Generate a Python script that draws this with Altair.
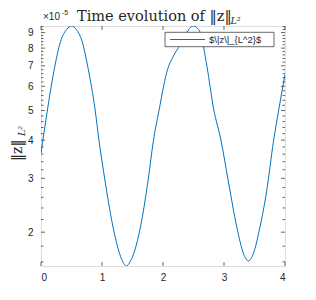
import altair as alt
import pandas as pd

# data (values of ||z||_{L^2} in units of 1e-5)
t_vals = [0, 0.1, 0.21, 0.32, 0.42, 0.5, 0.58, 0.667, 0.776, 0.885, 0.95, 1.05, 1.16, 1.27, 1.34, 1.40,
          1.46, 1.54, 1.65, 1.76, 1.84, 1.95, 2.0, 2.06, 2.17, 2.28, 2.39, 2.45, 2.5, 2.55, 2.61, 2.72,
          2.83, 2.95, 3.07, 3.21, 3.32, 3.40, 3.48, 3.59, 3.70, 3.81, 3.90, 4.0]
z_vals = [3.62, 4.94, 6.7, 8.4, 9.2, 9.45, 9.2, 8.5, 6.81, 5.06, 4.0, 2.94, 2.18, 1.75, 1.6, 1.55,
          1.6, 1.75, 2.18, 3.0, 3.95, 5.19, 5.87, 6.65, 7.53, 8.2, 9.0, 9.35, 9.45, 9.35, 9.0, 6.98,
          5.06, 4.0, 2.94, 2.08, 1.70, 1.61, 1.70, 2.08, 2.73, 3.95, 5.06, 6.56]
x_ticks = [0, 1, 2, 3, 4]
y_major = [2, 3, 4, 5, 6, 7, 8, 9]
y_minor = [1.6, 1.8, 2.2, 2.4, 2.6, 2.8, 3.2, 3.4, 3.6, 3.8, 4.2, 4.4, 4.6, 4.8, 5.2, 5.4, 5.6, 5.8,
           6.2, 6.4, 6.6, 6.8, 7.2, 7.4, 7.6, 7.8, 8.2, 8.4, 8.6, 8.8, 9.2, 9.4]

W, H = 244, 240
AX = "#262626"
LINE = "#0072BD"

df = pd.DataFrame({"t": t_vals, "z": z_vals})
xs = alt.Scale(domain=[0, 4], nice=False, zero=False)
ys = alt.Scale(type="log", domain=[1.55, 9.45], nice=False)
x_axis = alt.Axis(values=x_ticks, ticks=False, domain=False, grid=False, labelPadding=6,
                  labelFontSize=10, labelColor=AX, labelFont="Liberation Sans", title=None)
y_axis = alt.Axis(values=y_major, ticks=False, domain=False, grid=False, format="d", labelPadding=8,
                  labelFontSize=10, labelColor=AX, labelFont="Liberation Sans", title=None)

line = alt.Chart(df).mark_line(color=LINE, strokeWidth=1, interpolate="monotone", clip=True).encode(
    x=alt.X("t:Q", scale=xs, axis=x_axis, title=None),
    y=alt.Y("z:Q", scale=ys, axis=y_axis, title=None),
)

xt = pd.DataFrame({"t": x_ticks})
ymaj = pd.DataFrame({"z": y_major})
ymin = pd.DataFrame({"z": y_minor})

def xrule(y1, y2):
    return alt.Chart(xt).mark_rule(color=AX, strokeWidth=0.7).encode(
        x=alt.X("t:Q", scale=xs, axis=x_axis, title=None), y=alt.value(y1), y2=alt.value(y2))

def yrule(d, x1, x2):
    return alt.Chart(d).mark_rule(color=AX, strokeWidth=0.7).encode(
        y=alt.Y("z:Q", scale=ys, axis=y_axis, title=None), x=alt.value(x1), x2=alt.value(x2))

tk = 4
mk = 2.5
ticks = [xrule(H, H - tk), xrule(0, tk),
         yrule(ymaj, 0, tk), yrule(ymaj, W - tk, W),
         yrule(ymin, 0, mk), yrule(ymin, W - mk, W)]

one = pd.DataFrame({"a": [0]})

def txt(s, x, y, size, font="Liberation Sans", style="normal", align="left", angle=0, baseline="alphabetic"):
    return alt.Chart(one).mark_text(text=s, fontSize=size, font=font, fontStyle=style, align=align,
                                    baseline=baseline, angle=angle, color=AX).encode(
        x=alt.value(x), y=alt.value(y))

SERIF = "DejaVu Serif"
texts = [
    txt("Time evolution of \u2016z\u2016", 36, -5, 14.5, font=SERIF),
    txt("L\u00b2", 189.5, -2.5, 9.5, font=SERIF, style="italic"),
    txt("\u00d710", 2, -6, 10),
    txt("-5", 21, -11.5, 7),
    txt("\u2016z\u2016", -19, 135, 14, font=SERIF, angle=270),
    txt("L\u00b2", -16.5, 110, 9.5, font=SERIF, style="italic", angle=270),
]

legend_box = alt.Chart(one).mark_rect(fill="white", stroke=AX, strokeWidth=0.7).encode(
    x=alt.value(124), x2=alt.value(233), y=alt.value(6.3), y2=alt.value(20.7))
legend_line = alt.Chart(one).mark_rule(color=LINE, strokeWidth=1).encode(
    x=alt.value(129), x2=alt.value(164), y=alt.value(13.5))
legend_text = txt("$\\|z\\|_{L^2}$", 168, 13.5, 9.5, baseline="middle")

chart = alt.layer(line, *ticks, legend_box, legend_line, legend_text, *texts).properties(
    width=W, height=H, autosize=alt.AutoSizeParams(type="none"),
    padding={"left": 33, "top": 18, "right": 12, "bottom": 25},
).configure_view(stroke=AX, strokeWidth=0.7).configure(background="white")

chart.save("out.html", embed_options={"renderer": "svg", "actions": False})
